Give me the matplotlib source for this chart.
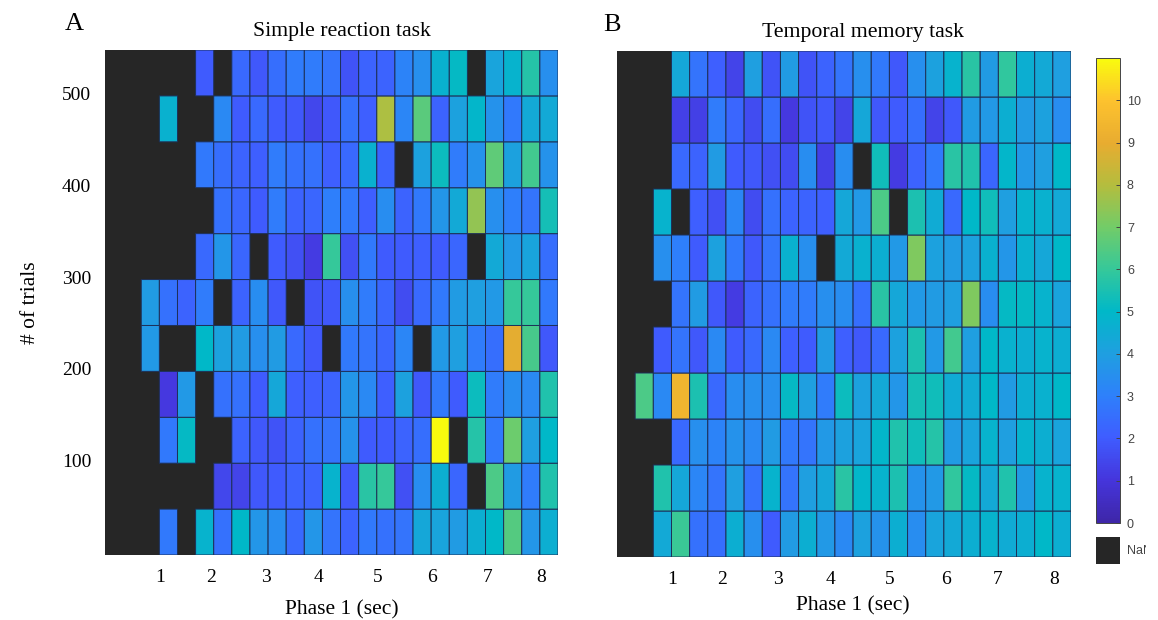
import numpy as np
import matplotlib
matplotlib.use('Agg')
import matplotlib.pyplot as plt
from matplotlib.colors import LinearSegmentedColormap
from matplotlib.transforms import Bbox, ScaledTranslation

n = np.nan

# rows listed from the top of the panel (500+) down to the lowest trials
task_a = [
    [n, n, n, n, n, 2.0, n, 2.4, 1.9, 2.5, 2.9, 2.9, 2.7, 1.8, 2.2, 2.2, 3.1, 3.5, 4.7, 5.1, n, 4.2, 4.8, 5.7, 3.5],
    [n, n, n, 4.7, n, n, 3.3, 2.0, 2.4, 2.0, 1.9, 1.5, 1.9, 2.6, 2.1, 7.9, 3.2, 6.6, 2.2, 4.1, 4.9, 3.6, 2.8, 4.4, 4.4],
    [n, n, n, n, n, 2.8, 2.5, 2.2, 2.1, 2.9, 2.6, 2.6, 2.1, 2.4, 4.7, 2.2, n, 4.1, 5.2, 2.9, 3.6, 6.7, 4.1, 6.2, 3.6],
    [n, n, n, n, n, n, 2.6, 2.3, 2.0, 2.9, 2.2, 2.3, 3.0, 2.8, 2.1, 3.4, 2.2, 2.8, 3.7, 4.4, 7.5, 3.5, 3.0, 2.7, 5.4],
    [n, n, n, n, n, 2.4, 3.7, 2.3, n, 2.0, 1.7, 1.2, 6.0, 1.7, 2.8, 2.0, 2.0, 2.1, 2.0, 2.3, n, 4.4, 3.8, 4.2, 2.5],
    [n, n, 3.9, 2.6, 2.2, 2.9, n, 2.2, 3.4, 1.9, n, 1.8, 1.9, 3.5, 2.9, 2.3, 1.6, 2.4, 2.8, 3.9, 4.0, 3.8, 6.0, 6.0, 2.8],
    [n, n, 3.8, n, n, 5.0, 4.1, 3.9, 3.5, 3.9, 2.4, 1.9, n, 2.8, 2.7, 2.3, 3.2, n, 3.8, 4.0, 2.9, 2.5, 8.9, 6.3, 1.9],
    [n, n, n, 1.1, 3.8, n, 2.6, 2.6, 2.0, 4.3, 2.1, 2.1, 2.2, 3.7, 3.3, 2.1, 4.1, 1.9, 2.8, 2.0, 5.2, 2.9, 3.4, 3.3, 5.6],
    [n, n, n, 2.8, 5.1, n, n, 2.2, 1.9, 1.8, 2.2, 2.6, 2.7, 3.6, 2.0, 2.0, 2.2, 2.5, 11.0, n, 5.7, 2.8, 6.9, 4.0, 5.0],
    [n, n, n, n, n, n, 1.5, 1.4, 1.9, 2.0, 2.2, 2.2, 4.8, 1.9, 5.8, 6.0, 1.7, 3.4, 4.6, 2.3, n, 6.4, 3.9, 2.9, 5.6],
    [n, n, n, 2.8, n, 4.8, 2.6, 5.0, 3.7, 3.4, 2.4, 3.7, 2.7, 2.2, 2.8, 2.6, 2.7, 4.3, 4.2, 3.9, 4.6, 5.0, 6.5, 3.7, 4.6],
]

task_b = [
    [n, n, n, 4.3, 2.7, 2.1, 1.4, 4.0, 1.8, 3.9, 1.8, 2.2, 2.7, 3.5, 2.8, 1.9, 3.5, 4.1, 4.8, 5.8, 3.9, 5.9, 4.6, 4.4, 4.0],
    [n, n, n, 1.3, 1.3, 2.9, 2.3, 1.6, 2.5, 1.1, 1.8, 1.9, 1.4, 4.3, 1.9, 2.0, 2.5, 1.4, 1.9, 3.9, 3.8, 4.6, 3.9, 4.1, 3.4],
    [n, n, n, 2.4, 2.2, 3.9, 2.0, 1.9, 1.7, 1.6, 3.4, 1.3, 3.4, n, 5.3, 1.2, 2.2, 2.8, 5.8, 5.6, 2.3, 4.9, 3.8, 4.0, 5.0],
    [n, n, 4.8, n, 2.1, 1.7, 3.2, 1.6, 2.6, 2.2, 2.2, 2.1, 4.3, 3.8, 6.4, n, 5.5, 4.5, 2.4, 5.0, 5.3, 4.0, 4.8, 4.7, 4.4],
    [n, n, 3.5, 3.0, 2.0, 4.1, 2.8, 1.9, 2.7, 4.7, 3.5, n, 4.4, 4.7, 4.6, 3.8, 7.2, 4.1, 3.9, 4.1, 4.7, 3.7, 4.7, 4.3, 5.0],
    [n, n, n, 2.7, 3.9, 1.9, 1.2, 2.2, 2.6, 2.9, 2.9, 3.5, 3.4, 2.5, 5.8, 4.3, 3.8, 3.9, 4.0, 7.2, 3.4, 5.1, 5.1, 4.8, 4.2],
    [n, n, 2.0, 2.7, 1.9, 3.3, 2.0, 2.4, 3.3, 2.1, 2.0, 3.9, 2.1, 1.9, 2.4, 4.1, 5.5, 3.8, 6.2, 4.0, 5.0, 4.7, 4.6, 4.8, 4.6],
    [n, 6.4, 3.3, 9.4, 5.5, 2.4, 3.4, 3.5, 3.5, 5.1, 4.0, 2.9, 5.2, 4.1, 4.4, 3.7, 5.4, 5.3, 4.5, 4.5, 5.0, 3.9, 4.6, 4.7, 5.0],
    [n, n, n, 2.4, 3.5, 3.1, 3.6, 3.3, 3.9, 2.8, 2.7, 3.8, 4.1, 4.2, 4.9, 5.6, 5.3, 5.7, 3.9, 4.2, 4.8, 4.0, 4.8, 4.6, 4.2],
    [n, n, 5.6, 4.3, 3.2, 2.7, 4.0, 2.6, 4.8, 2.7, 4.0, 4.3, 5.8, 4.9, 4.8, 5.5, 3.6, 3.8, 5.9, 5.1, 4.4, 5.6, 3.9, 4.8, 4.8],
    [n, n, 4.4, 6.1, 2.6, 2.5, 4.6, 3.5, 2.0, 3.9, 4.6, 3.8, 3.3, 4.1, 3.6, 4.6, 3.4, 4.2, 4.4, 4.6, 4.8, 4.5, 4.6, 5.0, 4.6],
]

titles = ['Simple reaction task', 'Temporal memory task']
panel_letters = ['A', 'B']
sec_labels = ['1', '2', '3', '4', '5', '6', '7', '8']
# the labels sit slightly unevenly in the picture
sec_pos_a = [1.01, 1.95, 2.96, 3.92, 5.02, 6.02, 7.03, 8.02]
sec_pos_b = [1.01, 1.93, 2.96, 3.92, 5.00, 6.03, 6.99, 8.02]
trial_ticks = [100, 200, 300, 400, 500]
cbar_ticks = [0, 1, 2, 3, 4, 5, 6, 7, 8, 9, 10]

W, H = 1158, 620


def px_axes(fig, x0, y0, x1, y1):
    # axes placed by pixel box, y counted from the top
    return fig.add_axes([x0 / W, 1 - y1 / H, (x1 - x0) / W, (y1 - y0) / H])


# parula style map as it looks in the picture
cmap = LinearSegmentedColormap.from_list('parula_like', [
    (0 / 11, '#3e26a8'), (1 / 11, '#4535dc'), (2 / 11, '#3f5cff'), (3 / 11, '#2e80fb'),
    (4 / 11, '#1f9fe0'), (5 / 11, '#00b8c8'), (6 / 11, '#35c89a'), (7 / 11, '#72cc68'),
    (8 / 11, '#b4bd3e'), (9 / 11, '#e8ac30'), (10 / 11, '#fdc22e'), (11 / 11, '#f9fb0e'),
])
cmap.set_bad('#262626')

plt.rcParams['font.family'] = ['Liberation Serif', 'DejaVu Serif']

fig = plt.figure(figsize=(W / 100, H / 100), dpi=100)

boxes = [(105, 50, 558, 555), (617, 51, 1071, 557)]
title_x = [0.522, 0.542]
xlabel_x = [0.522, 0.52]
xlabel_pad = [10, 6]
sec_pos = [sec_pos_a, sec_pos_b]
for i, data in enumerate([task_a, task_b]):
    ax = px_axes(fig, *boxes[i])
    z = np.ma.masked_invalid(np.array(data)[::-1])
    xedges = np.arange(26) / 3
    yedges = np.arange(12) * 50
    # pcolor leaves the masked cells out, so the NaN area has no grid
    mesh = ax.pcolor(xedges, yedges, z, cmap=cmap, vmin=0, vmax=11,
                     edgecolors='#1d3058', linewidth=0.7)
    ax.set_facecolor('#262626')
    ax.set_xlim(0, 25 / 3)
    ax.set_ylim(0, 550)
    ax.set_xticks(sec_pos[i], sec_labels)
    ax.tick_params(length=0, labelsize=14, pad=10)
    ax.set_xlabel('Phase 1 (sec)', fontsize=15.5, labelpad=xlabel_pad[i], x=xlabel_x[i])
    ax.set_title(titles[i], fontsize=15.7, pad=10, x=title_x[i])
    for s in ax.spines.values():
        s.set_visible(False)
    ax.text(-0.088 if i == 0 else -0.03, 1.04, panel_letters[i], transform=ax.transAxes, fontsize=19)
    if i == 0:
        ax.set_yticks(trial_ticks)
        ax.set_ylabel('# of trials', fontsize=15.5, labelpad=16)
        up = ScaledTranslation(0, 2.5 / 100, fig.dpi_scale_trans)
        for lab in ax.get_yticklabels():
            lab.set_transform(lab.get_transform() + up)
    else:
        ax.set_yticks([])

cax = px_axes(fig, 1096, 58, 1120, 523)
cb = fig.colorbar(mesh, cax=cax)
cb.set_ticks(cbar_ticks)
cb.ax.tick_params(labelsize=9, length=3, direction='in', width=0.7, color='#444444',
                  labelcolor='#444444', pad=5)
for lab in cb.ax.get_yticklabels():
    lab.set_family(['Liberation Sans', 'DejaVu Sans'])
cb.outline.set_edgecolor('#444444')
cb.outline.set_linewidth(0.7)

nan_ax = px_axes(fig, 1096, 537, 1120, 564)
nan_ax.set_facecolor('#262626')
nan_ax.set_xticks([])
nan_ax.set_yticks([])
for s in nan_ax.spines.values():
    s.set_visible(False)
nan_lab = nan_ax.text(1.3, 0.5, 'NaN', transform=nan_ax.transAxes, fontsize=9, va='center',
                      color='#444444', family=['Liberation Sans', 'DejaVu Sans'])
# the label is cut off on its right side in the picture
nan_lab.set_clip_box(Bbox([[1120, 0], [1146, H]]))
nan_lab.set_clip_on(True)

fig.savefig('out.png', dpi=100)
